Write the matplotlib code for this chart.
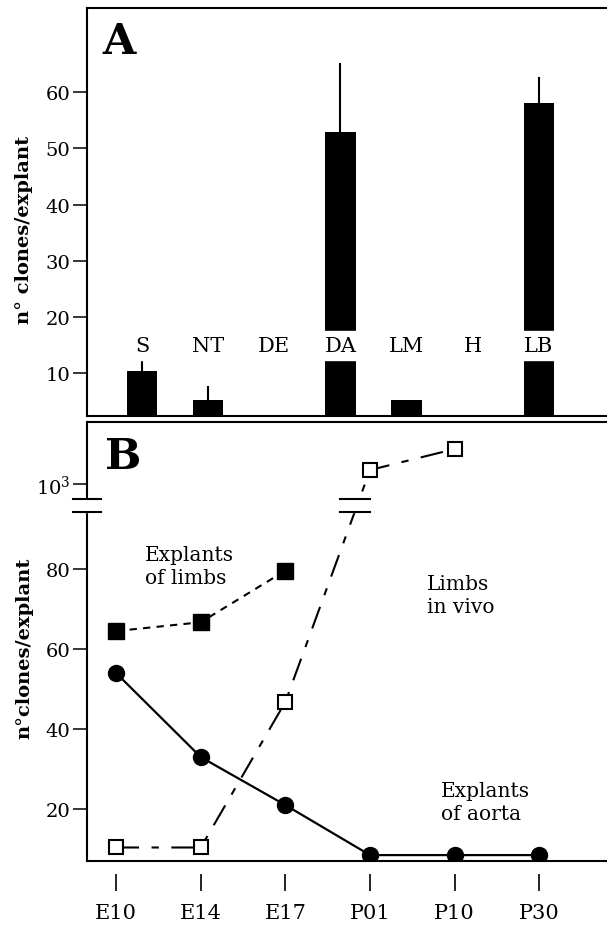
import numpy as np
import matplotlib
matplotlib.use('Agg')
import matplotlib.pyplot as plt

plt.rcParams['font.family'] = ['DejaVu Serif']
plt.rcParams['mathtext.fontset'] = 'dejavuserif'

# ---------------- Panel A data ----------------
tissues = ['S', 'NT', 'DE', 'DA', 'LM', 'H', 'LB']
clones_mean = [10.3, 5.2, 0, 52.9, 5.1, 0, 58.1]
clones_err = [2.2, 2.5, 0, 12.4, 0, 0, 4.7]
a_ticks = [10, 20, 30, 40, 50, 60]

# ---------------- Panel B data ----------------
stages = ['E10', 'E14', 'E17', 'P01', 'P10', 'P30']
limb_explants = [64.5, 66.7, 79.6]            # E10, E14, E17
aorta_explants = [54, 33, 21, 8.5, 8.5, 8.5]  # E10 .. P30
limbs_in_vivo = [10.4, 10.4, 46.8, 1200, 1500]  # E10 .. P10
b_ticks = [20, 40, 60, 80, 1000]
b_ticklabels = ['20', '40', '60', '80', r'$10^3$']

W, H = 607, 928
fig = plt.figure(figsize=(W / 100, H / 100), dpi=100)

LW = 1.5

# ================= Panel A =================
axA = fig.add_axes([86.5 / W, 1 - 416.7 / H, 1 - 86.5 / W, (416.7 - 8.5) / H])
xA = np.arange(len(tissues))
axA.bar(xA, clones_mean, width=0.46, color='black', zorder=2)
axA.errorbar(xA, clones_mean, yerr=[np.zeros(len(clones_err)), clones_err],
             fmt='none', ecolor='black', elinewidth=1.5, capsize=0, zorder=1.5)
axA.set_xlim(-0.84, 7.03)
axA.set_ylim(2.39, 75.1)
axA.axhspan(12.3, 17.5, color='white', zorder=2.3)
for x, t in zip(xA, tissues):
    axA.text(x, 14.9, t, ha='center', va='center', fontsize=15, zorder=4)

axA.spines['right'].set_visible(False)
for s in ('left', 'top', 'bottom'):
    axA.spines[s].set_linewidth(LW)
    axA.spines[s].set_zorder(3)
axA.set_xticks([])
axA.set_yticks(a_ticks)
axA.tick_params(axis='y', direction='out', length=10, width=1.1, pad=1.5,
                labelsize=14)
axA.set_ylabel('n° clones/explant', fontsize=14, fontweight='bold')
axA.yaxis.set_label_coords(-0.103, 0.457)
axA.text(0.03, 0.969, 'A', transform=axA.transAxes, fontsize=31,
         fontweight='bold', ha='left', va='top')

# ================= Panel B =================
axB = fig.add_axes([86.5 / W, 1 - 861.7 / H, 1 - 86.5 / W, (861.7 - 422.7) / H])

# broken y axis: linear low part, compressed upper part around 10^3
B1, B2, G, R = 94.3, 785.7, 3.2, 0.0175
_src = np.array([-1e6, B1, B2, 1e7])
_dst = np.array([-1e6, B1, B1 + G, B1 + G + (1e7 - B2) * R])


def fwd(v):
    return np.interp(v, _src, _dst)


def inv(u):
    return np.interp(u, _dst, _src)


axB.set_yscale('function', functions=(fwd, inv))
axB.set_ylim(7.1, 1890)
xB = np.arange(len(stages))
axB.set_xlim(-0.35, 5.80)

axB.plot(xB[:len(limbs_in_vivo)], limbs_in_vivo, color='black', lw=1.5,
         dashes=(11, 6, 3.5, 6), marker='s', ms=10.5, mfc='white',
         mec='black', mew=1.5, zorder=2)
axB.plot(xB[:len(limb_explants)], limb_explants, color='black', lw=1.5,
         dashes=(3.5, 3), marker='s', ms=11, mfc='black', mec='black',
         zorder=2.1)
axB.plot(xB, aorta_explants, color='black', lw=1.6, marker='o', ms=11.5,
         mfc='black', mec='black', zorder=2.2)

# gap of the axis break
axB.axhspan(B1, B2, xmin=-0.04, xmax=1.0, color='white', zorder=2.6,
            clip_on=False)
ytr = axB.get_yaxis_transform()
for yb in (B1, B2):
    axB.plot([-0.0265, 0.0279], [yb, yb], transform=ytr, color='black',
             lw=1.5, clip_on=False, zorder=4)
    axB.plot([2.65, 3.0], [yb, yb], color='black', lw=1.5, zorder=4)

axB.spines['right'].set_visible(False)
axB.spines['top'].set_linewidth(LW)
axB.spines['left'].set_linewidth(LW)
axB.spines['bottom'].set_position(('outward', 9.6))
axB.spines['bottom'].set_visible(False)
axB.plot([0, 1], [0, 0], transform=axB.transAxes, color='black', lw=LW,
         clip_on=False, zorder=3)

axB.set_xticks(xB, stages)
axB.tick_params(axis='x', direction='out', length=12, width=1.2, pad=9,
                labelsize=15)
axB.set_yticks(b_ticks, b_ticklabels)
axB.yaxis.set_minor_locator(matplotlib.ticker.NullLocator())
axB.tick_params(axis='y', direction='out', length=10, width=1.1, pad=1.5,
                labelsize=14)
axB.set_ylabel('n°clones/explant', fontsize=14, fontweight='bold')
axB.yaxis.set_label_coords(-0.103, 0.487)

axB.text(0.035, 0.97, 'B', transform=axB.transAxes, fontsize=31,
         fontweight='bold', ha='left', va='top')
axB.text(0.112, 0.719, 'Explants\nof limbs', transform=axB.transAxes,
         fontsize=14.5, ha='left', va='top', linespacing=1.25)
axB.text(0.654, 0.653, 'Limbs\nin vivo', transform=axB.transAxes,
         fontsize=14.5, ha='left', va='top', linespacing=1.25)
axB.text(0.681, 0.182, 'Explants\nof aorta', transform=axB.transAxes,
         fontsize=14.5, ha='left', va='top', linespacing=1.25)

fig.savefig('out.png', dpi=100)
